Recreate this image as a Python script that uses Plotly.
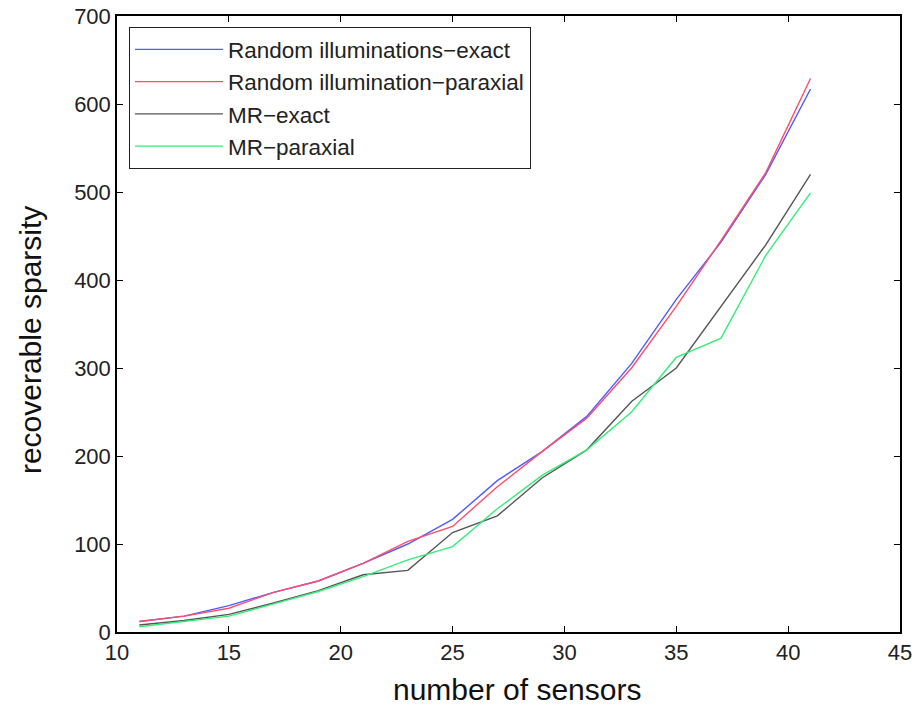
import plotly.graph_objects as go

sensors = [11, 13, 15, 17, 19, 21, 23, 25, 27, 29, 31, 33, 35, 37, 39, 41]
random_exact = [12, 18, 30, 45, 58, 78, 100, 128, 172, 205, 245, 305, 378, 443, 520, 617]
random_paraxial = [12, 18, 27, 45, 58, 78, 103, 120, 165, 205, 243, 300, 370, 445, 522, 629]
mr_exact = [8, 13, 20, 33, 47, 65, 70, 113, 132, 175, 207, 262, 300, 370, 440, 520]
mr_paraxial = [6, 12, 18, 32, 46, 63, 82, 97, 140, 178, 207, 250, 312, 334, 428, 499]

x_ticks = [10, 15, 20, 25, 30, 35, 40, 45]
y_ticks = [0, 100, 200, 300, 400, 500, 600, 700]

series = [
    ("Random illuminations\u2212exact", random_exact, "#4f5cff"),
    ("Random illumination\u2212paraxial", random_paraxial, "#ff4d6a"),
    ("MR\u2212exact", mr_exact, "#555555"),
    ("MR\u2212paraxial", mr_paraxial, "#33ee77"),
]

fig = go.Figure()
for name, vals, color in series:
    fig.add_trace(go.Scatter(x=sensors, y=vals, mode="lines", name=name,
                             line=dict(color=color, width=1.4)))

axis_common = dict(showline=True, linecolor="black", linewidth=1.5, mirror="ticks",
                   ticks="inside", ticklen=6, tickcolor="black", showgrid=False,
                   zeroline=False, automargin=False, ticklabeloverflow="allow",
                   tickfont=dict(size=22, color="#222222"))

fig.update_layout(
    width=915, height=711,
    margin=dict(l=117, r=15, t=16, b=79),
    paper_bgcolor="white", plot_bgcolor="white",
    font=dict(family="Liberation Sans, Arial, sans-serif", color="black"),
    xaxis=dict(range=[10, 45], tickvals=x_ticks, **axis_common),
    yaxis=dict(range=[0, 700], tickvals=y_ticks, **axis_common),
    legend=dict(x=0.015, y=0.982, xanchor="left", yanchor="top",
                bordercolor="#222222", borderwidth=1.2, bgcolor="white",
                font=dict(size=22.5, color="#222222"), tracegroupgap=0, itemwidth=88),
    showlegend=True,
    annotations=[
        dict(text="number of sensors", xref="paper", yref="paper", x=0.511, y=-0.094,
             xanchor="center", yanchor="middle", showarrow=False,
             font=dict(size=30, color="#111111")),
        dict(text="recoverable sparsity", xref="paper", yref="paper", x=-0.111, y=0.474,
             xanchor="center", yanchor="middle", showarrow=False, textangle=-90,
             font=dict(size=30, color="#111111")),
    ],
)

fig.write_html("out.html", config={"displayModeBar": False},
               post_script="document.body.style.margin='0px';")
